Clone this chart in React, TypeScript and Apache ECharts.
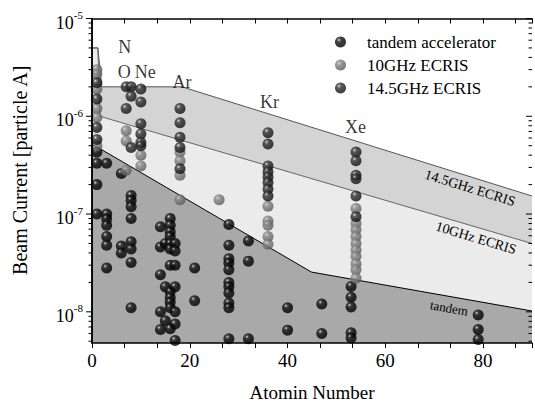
import React, { useEffect, useRef } from 'react';
import * as echarts from 'echarts';

const SERIF = '"Liberation Serif", "Times New Roman", Times, serif';

// ---- measured beam currents [particle A] vs atomic number ----
const tandemAccel: [number, number][] = [
  [1, 4.3e-7], [1, 3.3e-7], [1, 2.0e-7], [1, 1.0e-7],
  [3, 3.3e-7], [3, 1.0e-7], [3, 8.9e-8], [3, 7.7e-8], [3, 5.9e-8], [3, 4.8e-8], [3, 2.8e-8],
  [6, 2.6e-7], [6, 4.7e-8], [6, 4.0e-8],
  [8, 1.55e-7], [8, 1.38e-7], [8, 1.19e-7], [8, 9.0e-8], [8, 5.2e-8], [8, 4.4e-8], [8, 3.2e-8], [8, 1.1e-8],
  [14, 7.4e-8], [14, 4.6e-8], [14, 2.4e-8], [14, 1.0e-8], [14, 6.6e-9],
  [15, 5.0e-8], [15, 1.8e-8], [15, 8.1e-9],
  [16, 9.0e-8], [16, 7.7e-8], [16, 6.6e-8], [16, 5.9e-8], [16, 5.0e-8], [16, 4.4e-8], [16, 3.0e-8],
  [16, 1.6e-8], [16, 1.4e-8], [16, 1.25e-8], [16, 1.1e-8], [16, 6.7e-9],
  [17, 5.0e-8], [17, 4.2e-8], [17, 3.0e-8], [17, 1.8e-8], [17, 1.0e-8], [17, 7.5e-9], [17, 5.1e-9],
  [21, 2.8e-8], [21, 1.3e-8],
  [28, 7.8e-8], [28, 4.8e-8], [28, 3.5e-8], [28, 3.15e-8], [28, 2.7e-8], [28, 2.0e-8], [28, 1.8e-8],
  [28, 1.56e-8], [28, 1.23e-8], [28, 1.1e-8], [28, 5.3e-9],
  [32, 5.3e-8], [32, 3.3e-8], [32, 5.3e-9],
  [40, 1.1e-8], [40, 6.5e-9],
  [47, 1.2e-8], [47, 6.0e-9],
  [53, 1.82e-8], [53, 1.41e-8], [53, 1.12e-8], [53, 6.1e-9], [53, 5.4e-9],
  [79, 9.3e-9], [79, 6.6e-9], [79, 5.2e-9],
];

const ecris10: [number, number][] = [
  [1, 3.0e-6], [1, 2.7e-6], [1, 1.9e-6], [1, 1.2e-6], [1, 9.7e-7], [1, 5.0e-7],
  [7, 7.1e-7], [7, 5.6e-7], [7, 2.8e-7],
  [10, 4.0e-7], [10, 3.1e-7],
  [18, 4.3e-7], [18, 3.5e-7], [18, 2.5e-7], [18, 1.4e-7],
  [26, 1.4e-7],
  [36, 1.2e-7], [36, 8.5e-8], [36, 7.7e-8], [36, 5.9e-8], [36, 4.9e-8],
  [54, 1.14e-7], [54, 8.0e-8], [54, 6.9e-8], [54, 5.9e-8], [54, 5.0e-8], [54, 4.3e-8],
  [54, 3.7e-8], [54, 3.1e-8], [54, 2.7e-8], [54, 2.2e-8],
];

const ecris145: [number, number][] = [
  [1, 2.2e-6], [1, 1.5e-6], [1, 7.7e-7], [1, 5.8e-7],
  [7, 2.0e-6], [7, 1.2e-6],
  [8, 2.0e-6], [8, 1.6e-6], [8, 4.8e-7],
  [10, 1.9e-6], [10, 1.4e-6], [10, 8.4e-7], [10, 6.6e-7], [10, 5.4e-7], [10, 5.0e-7],
  [18, 1.2e-6], [18, 8.6e-7], [18, 6.1e-7], [18, 4.8e-7], [18, 2.9e-7],
  [36, 6.8e-7], [36, 5.2e-7], [36, 3.1e-7], [36, 2.7e-7], [36, 2.4e-7], [36, 2.1e-7], [36, 1.8e-7], [36, 1.53e-7],
  [54, 4.3e-7], [54, 3.5e-7], [54, 2.5e-7], [54, 2.3e-7], [54, 1.53e-7], [54, 9.4e-8],
];

// ---- performance limits (region boundaries) ----
const limit145: [number, number][] = [[0, 5e-6], [1.2, 5e-6], [2, 2e-6], [18.4, 2e-6], [90, 1.53e-7]];
const limit10: [number, number][] = [[0, 5e-6], [1.2, 5e-6], [1.6, 1e-6], [90, 5.0e-8]];
const limitTandem: [number, number][] = [[0, 5.2e-7], [44.9, 2.55e-8], [90, 1.02e-8]];

// ---- element labels ----
const elemNames = ['N', 'O', 'Ne', 'Ar', 'Kr', 'Xe'];
const elemX = [6.7, 6.6, 10.9, 18.4, 36.3, 53.9];
const elemY = [5.1e-6, 2.87e-6, 2.87e-6, 2.26e-6, 1.39e-6, 7.7e-7];

// ---- axes ----
const X_MIN = 0;
const X_MAX = 90;
const X_STEP = 20 / 3;
const Y_MIN = 4.8e-9;
const Y_MAX = 1e-5;
const yDecades = [-9, -8, -7, -6];
const yMantissas = [1, 2, 3, 4, 5, 6, 7, 8, 9];

const legendNames = ['tandem accelerator', '10GHz ECRIS', '14.5GHz ECRIS'];

function ball(stops: [number, string][]) {
  return {
    type: 'radial',
    x: 0.36,
    y: 0.32,
    r: 0.72,
    colorStops: stops.map(([o, c]) => ({ offset: o, color: c })),
  };
}

export default function App() {
  const ref = useRef<HTMLDivElement>(null);

  useEffect(() => {
    if (!ref.current) return;
    const chart = echarts.init(ref.current, undefined, { renderer: 'svg' });

    const yTicks: number[][] = [];
    yDecades.forEach((d) => {
      yMantissas.forEach((m) => {
        const v = m * Math.pow(10, d);
        if (v >= Y_MIN * 0.999 && v <= Y_MAX * 1.001) yTicks.push([0, v, m === 1 ? 1 : 0]);
      });
    });
    yTicks.push([0, 1e-5, 1]);

    const axisLine = { show: true, lineStyle: { color: '#000', width: 1.5 } };

    const option: any = {
      animation: false,
      backgroundColor: '#fff',
      grid: { left: 92, right: 2, top: 18.5, bottom: 62, containLabel: false },
      legend: {
        data: legendNames,
        orient: 'vertical',
        left: 330,
        top: 27,
        itemWidth: 43,
        itemHeight: 11,
        itemGap: 3,
        icon: 'circle',
        textStyle: { fontFamily: SERIF, fontSize: 17, color: '#000', lineHeight: 20 },
      },
      xAxis: [
        {
          type: 'value',
          position: 'bottom',
          min: X_MIN,
          max: X_MAX,
          interval: X_STEP,
          z: 10,
          axisLine,
          axisTick: { show: true, length: 5, inside: false, lineStyle: { color: '#000', width: 1 } },
          axisLabel: {
            margin: 8,
            fontFamily: SERIF,
            fontSize: 19,
            color: '#000',
            formatter: (v: number) => {
              const k = v / 20;
              return Math.abs(k - Math.round(k)) < 1e-6 && v < 89 ? String(Math.round(v)) : '';
            },
          },
          splitLine: { show: false },
          name: 'Atomin Number',
          nameLocation: 'middle',
          nameGap: 40,
          nameTextStyle: { fontFamily: SERIF, fontSize: 19, color: '#000' },
        },
        {
          type: 'value',
          position: 'top',
          min: X_MIN,
          max: X_MAX,
          interval: X_STEP,
          z: 10,
          axisLine,
          axisTick: { show: true, length: 5, inside: true, lineStyle: { color: '#000', width: 1 } },
          axisLabel: { show: false },
          splitLine: { show: false },
        },
      ],
      yAxis: [
        {
          type: 'log',
          logBase: 10,
          position: 'left',
          min: Y_MIN,
          max: Y_MAX,
          z: 10,
          axisLine,
          axisTick: { show: false },
          splitLine: { show: false },
          axisLabel: {
            margin: 9,
            color: '#000',
            fontFamily: SERIF,
            formatter: (v: number) => {
              const e = Math.log10(v);
              if (Math.abs(e - Math.round(e)) > 1e-6) return '';
              return '{b|10}{s|' + Math.round(e) + '}';
            },
            rich: {
              b: { fontFamily: SERIF, fontSize: 18, color: '#000', lineHeight: 18, padding: [8, 0, 0, 0] },
              s: { fontFamily: SERIF, fontSize: 11, color: '#000', lineHeight: 14, verticalAlign: 'top' },
            },
          },
          name: 'Beam Current [particle A]',
          nameLocation: 'middle',
          nameGap: 62,
          nameTextStyle: { fontFamily: SERIF, fontSize: 20, color: '#000', padding: [0, 0, 0, 21] },
        },
        {
          type: 'log',
          logBase: 10,
          position: 'right',
          min: Y_MIN,
          max: Y_MAX,
          z: 10,
          axisLine,
          axisTick: { show: false },
          axisLabel: { show: false },
          splitLine: { show: false },
        },
      ],
      graphic: [
        {
          type: 'text',
          x: 470,
          y: 188,
          rotation: -0.3,
          z: 20,
          style: { text: '14.5GHz ECRIS', font: '14px ' + SERIF, fill: '#000', align: 'center', verticalAlign: 'middle' },
        },
        {
          type: 'text',
          x: 476,
          y: 238,
          rotation: -0.29,
          z: 20,
          style: { text: '10GHz ECRIS', font: '14px ' + SERIF, fill: '#000', align: 'center', verticalAlign: 'middle' },
        },
        {
          type: 'text',
          x: 449,
          y: 308,
          rotation: -0.17,
          z: 20,
          style: { text: 'tandem', font: '13px ' + SERIF, fill: '#000', align: 'center', verticalAlign: 'middle' },
        },
      ],
      series: [
        {
          name: '14.5 limit',
          type: 'line',
          data: limit145,
          symbol: 'none',
          silent: true,
          z: 1,
          lineStyle: { color: '#555', width: 1 },
          areaStyle: { color: '#d4d4d4', opacity: 1, origin: 'start' },
        },
        {
          name: '10 limit',
          type: 'line',
          data: limit10,
          symbol: 'none',
          silent: true,
          z: 1,
          lineStyle: { color: '#666', width: 1 },
          areaStyle: { color: '#ebebeb', opacity: 1, origin: 'start' },
        },
        {
          name: 'tandem limit',
          type: 'line',
          data: limitTandem,
          symbol: 'none',
          silent: true,
          z: 1,
          lineStyle: { color: '#000', width: 1 },
          areaStyle: { color: '#a9a9a9', opacity: 1, origin: 'start' },
        },
        {
          name: legendNames[0],
          type: 'scatter',
          data: tandemAccel,
          symbol: 'circle',
          symbolSize: 11,
          z: 3,
          itemStyle: { color: ball([[0, '#f0f0f0'], [0.08, '#9a9a9a'], [0.22, '#262626'], [0.5, '#060606'], [1, '#000000']]) },
        },
        {
          name: legendNames[1],
          type: 'scatter',
          data: ecris10,
          symbol: 'circle',
          symbolSize: 11,
          z: 3,
          itemStyle: { color: ball([[0, '#dedede'], [0.12, '#a4a4a4'], [0.35, '#808080'], [1, '#565656']]) },
        },
        {
          name: legendNames[2],
          type: 'scatter',
          data: ecris145,
          symbol: 'circle',
          symbolSize: 11,
          z: 3,
          itemStyle: { color: ball([[0, '#eeeeee'], [0.09, '#9c9c9c'], [0.25, '#3a3a3a'], [0.6, '#1e1e1e'], [1, '#101010']]) },
        },
        {
          name: 'element labels',
          type: 'scatter',
          data: elemX.map((x, i) => [x, elemY[i]]),
          symbolSize: 1,
          silent: true,
          z: 5,
          itemStyle: { color: 'rgba(0,0,0,0)' },
          label: {
            show: true,
            position: 'inside',
            fontFamily: SERIF,
            fontSize: 18,
            color: '#000',
            formatter: (p: any) => elemNames[p.dataIndex],
          },
        },
        {
          name: 'y ticks',
          type: 'custom',
          data: yTicks,
          encode: { x: 0, y: 1 },
          silent: true,
          clip: false,
          z: 12,
          renderItem: (_params: any, api: any) => {
            const v = api.value(1);
            const major = api.value(2) === 1;
            const l = api.coord([X_MIN, v]);
            const r = api.coord([X_MAX, v]);
            const len = major ? 6 : 3.5;
            return {
              type: 'group',
              children: [
                { type: 'line', shape: { x1: l[0] - len, y1: l[1], x2: l[0], y2: l[1] }, style: { stroke: '#000', lineWidth: 1 } },
                { type: 'line', shape: { x1: r[0] - len, y1: r[1], x2: r[0], y2: r[1] }, style: { stroke: '#000', lineWidth: 1 } },
              ],
            };
          },
        },
      ],
    };

    chart.setOption(option);
    return () => chart.dispose();
  }, []);

  return <div ref={ref} style={{ position: 'fixed', left: 0, top: 0, width: 535, height: 407 }} />;
}
